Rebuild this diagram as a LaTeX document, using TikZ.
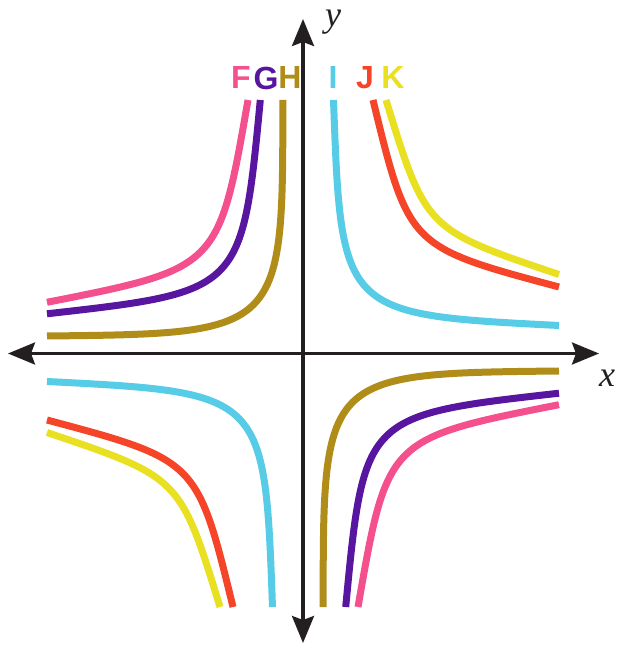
\documentclass[tikz,border=0pt]{standalone}
\usepackage{fontspec}
\setsansfont{Liberation Sans}
\newfontfamily\axisfont{Liberation Serif}
\usepackage{xcolor}
\usepackage{tikz}
\usetikzlibrary{arrows.meta}
\definecolor{fpink}{RGB}{245,80,142}
\definecolor{gpurple}{RGB}{88,22,160}
\definecolor{hgold}{RGB}{176,140,24}
\definecolor{icyan}{RGB}{86,204,230}
\definecolor{jred}{RGB}{245,68,40}
\definecolor{kyellow}{RGB}{232,224,32}
\definecolor{axisgray}{RGB}{35,31,32}
% one branch: from the top edge down and round the corner out to the side edge
\newcommand{\hypbranch}[4]{%
  \draw[#1] (#2,25.35) .. controls (#4) and (#4) .. (25.6,#3);%
}
\tikzset{
  axisline/.style={line width=1.6pt, draw=axisgray, {Stealth[length=13.5pt, width=11pt, inset=2pt]}-{Stealth[length=13.5pt, width=11pt, inset=2pt]}},
  branch/.style={line width=3.5pt},
  letter/.style={inner sep=0pt, font=\fontsize{16}{16}\selectfont\sffamily\bfseries},
  axislabel/.style={inner sep=0pt, text=axisgray, font=\fontsize{18}{18}\selectfont\axisfont\itshape}
}
\begin{document}
\begin{tikzpicture}[x=5pt, y=5pt]
    \useasboundingbox (-30.3,-29.25) rectangle (31.8,35.35);
    % axes
    \coordinate (xleft) at (-29.5,0);
    \coordinate (xright) at (29.6,0);
    \coordinate (ybottom) at (0,-28.95);
    \coordinate (ytop) at (0,33.45);
    \draw[axisline] (xleft) -- (xright);
    \draw[axisline] (ybottom) -- (ytop);
    \node[axislabel] (xlabel) at (30.4,-2.45) {x};
    \node[axislabel] (ylabel) at (3.0,33.1) {y};
    % F, G, H: upper left and lower right
    \begin{scope}[xscale=-1]
        \hypbranch{branch, fpink}{5.5}{5.12}{8.43,8.51}
        \hypbranch{branch, gpurple}{4.27}{3.97}{6.10,6.17}
        \hypbranch{branch, hgold}{2.02}{1.75}{2.0,2.0}
    \end{scope}
    \begin{scope}[yscale=-1]
        \hypbranch{branch, fpink}{5.5}{5.12}{8.43,8.51}
        \hypbranch{branch, gpurple}{4.27}{3.97}{6.10,6.17}
        \hypbranch{branch, hgold}{2.02}{1.75}{2.0,2.0}
    \end{scope}
    % I, J, K: upper right and lower left
    \hypbranch{branch, icyan}{3.05}{2.8}{3.83,3.91}
    \hypbranch{branch, jred}{7.0}{6.65}{10.58,10.66}
    \hypbranch{branch, kyellow}{8.3}{7.9}{12.29,12.38}
    \begin{scope}[scale=-1]
        \hypbranch{branch, icyan}{3.05}{2.8}{3.83,3.91}
        \hypbranch{branch, jred}{7.0}{6.65}{10.58,10.66}
        \hypbranch{branch, kyellow}{8.3}{7.9}{12.29,12.38}
    \end{scope}
    % curve names
    \node[letter, text=fpink] (labF) at (-6.2,27.55) {F};
    \node[letter, text=gpurple] (labG) at (-3.7,27.55) {G};
    \node[letter, text=hgold] (labH) at (-1.3,27.55) {H};
    \node[letter, text=icyan] (labI) at (3.0,27.55) {I};
    \node[letter, text=jred] (labJ) at (6.2,27.55) {J};
    \node[letter, text=kyellow] (labK) at (9.0,27.55) {K};
\end{tikzpicture}
\end{document}
